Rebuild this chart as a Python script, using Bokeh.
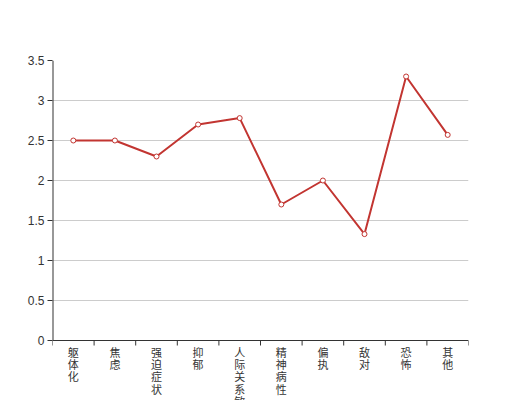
import math
from bokeh.plotting import figure
from bokeh.models import ColumnDataSource, FixedTicker, Range1d, NumeralTickFormatter
from bokeh.embed import file_html
from bokeh.resources import INLINE
from bokeh.core.properties import value

categories = ["躯体化", "焦虑", "强迫症状", "抑郁", "人际关系敏感", "精神病性", "偏执", "敌对", "恐怖", "其他"]
scores = [2.5, 2.5, 2.3, 2.7, 2.78, 1.7, 2.0, 1.33, 3.3, 2.57]
y_ticks = [0, 0.5, 1, 1.5, 2, 2.5, 3, 3.5]

n = len(categories)
xs = [i + 0.5 for i in range(n)]
bounds = list(range(n + 1))
FONT = "Noto Sans CJK SC"
NUM_FONT = "Liberation Sans"
AXIS = "#333333"

# frame extends to canvas bottom so that the vertical category labels can sit under y=0
p = figure(width=520, height=400, output_backend="svg", toolbar_location=None,
           x_range=Range1d(0, n), y_range=Range1d(-0.75, 3.5),
           x_axis_location=None,
           min_border_left=52, min_border_right=52, min_border_top=60, min_border_bottom=0)
p.outline_line_color = None
p.background_fill_color = "white"
p.border_fill_color = "white"
p.xgrid.grid_line_color = None

# y axis (line drawn manually so that it stops at 0)
p.yaxis.ticker = FixedTicker(ticks=y_ticks)
p.yaxis.formatter = NumeralTickFormatter(format="0.[0]")
p.yaxis.major_tick_in = 0
p.yaxis.major_tick_out = 5
p.yaxis.minor_tick_line_color = None
p.yaxis.axis_line_color = None
p.yaxis.major_tick_line_color = AXIS
p.yaxis.major_label_text_color = AXIS
p.yaxis.major_label_text_font = NUM_FONT
p.yaxis.major_label_text_font_size = "12px"
p.yaxis.major_label_standoff = 3
p.ygrid.grid_line_color = "#cccccc"
p.ygrid.ticker = FixedTicker(ticks=y_ticks[1:])

p.segment(x0=[0], y0=[0], x1=[0], y1=[y_ticks[-1]], line_color=AXIS, line_width=2)

# category axis
p.segment(x0=[0], y0=[0], x1=[n], y1=[0], line_color=AXIS, line_width=1)
p.ray(x=bounds, y=[0] * len(bounds), length=5, angle=-math.pi / 2, length_units="screen",
      line_color=AXIS, line_width=1)
p.text(x=xs, y=[0] * n, text=["\n".join(c) for c in categories], y_offset=3,
       text_align="center", text_baseline="top", text_font=value(FONT),
       text_font_size="11px", text_color=AXIS, text_line_height=0.78)

src = ColumnDataSource(dict(x=xs, y=scores))
p.line("x", "y", source=src, line_color="#c23531", line_width=2)
p.scatter("x", "y", source=src, marker="circle", size=5, fill_color="white",
          line_color="#c23531", line_width=1)

open("out.html", "w").write(file_html(p, INLINE))
